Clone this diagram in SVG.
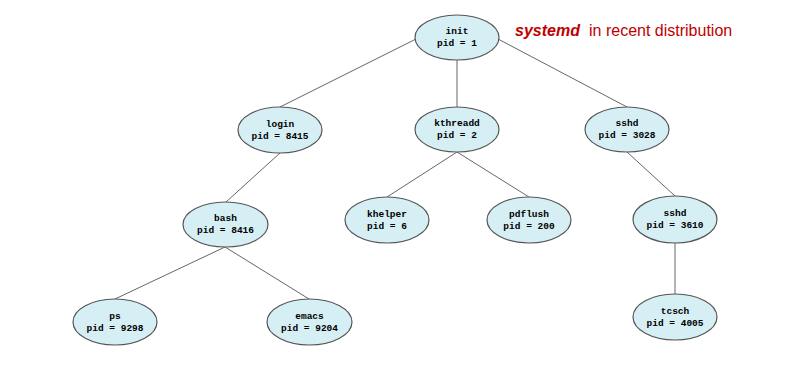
<svg xmlns="http://www.w3.org/2000/svg" width="797" height="372" viewBox="0 0 797 372">
<style>
.n ellipse{fill:#D5EFF4;stroke:#555;stroke-width:1.2}
.n text{font-family:"Liberation Mono","Courier New",monospace;font-weight:bold;font-size:9.5px;text-anchor:middle;fill:#000}
.c line{stroke:#666;stroke-width:1}
.t{font-family:"Liberation Sans",Arial,sans-serif;font-size:16px;fill:#C00000}
</style>
<rect width="797" height="372" fill="#fff"/>
<g id="connectors" class="c">
<line x1="416" y1="39" x2="280" y2="107"/>
<line x1="457" y1="60" x2="457" y2="107"/>
<line x1="498" y1="39" x2="627" y2="107"/>
<line x1="280" y1="153" x2="226" y2="202"/>
<line x1="457" y1="152" x2="387" y2="197"/>
<line x1="457" y1="152" x2="529" y2="197"/>
<line x1="627" y1="152" x2="675" y2="196"/>
<line x1="675" y1="243" x2="675" y2="294"/>
<line x1="225" y1="247" x2="115" y2="299"/>
<line x1="225" y1="247" x2="309" y2="299"/>
</g>
<g id="init" class="n"><ellipse cx="457" cy="37.5" rx="42" ry="22.5"/><text x="457" y="34">init</text><text x="457" y="46">pid = 1</text></g>
<g id="login" class="n"><ellipse cx="280" cy="130" rx="42" ry="23"/><text x="280" y="126.5">login</text><text x="280" y="138.5">pid = 8415</text></g>
<g id="kthreadd" class="n"><ellipse cx="457" cy="129.5" rx="42" ry="22.5"/><text x="457" y="126">kthreadd</text><text x="457" y="138">pid = 2</text></g>
<g id="sshd1" class="n"><ellipse cx="627" cy="129.5" rx="42" ry="22.5"/><text x="627" y="126">sshd</text><text x="627" y="138">pid = 3028</text></g>
<g id="bash" class="n"><ellipse cx="225.5" cy="224.5" rx="42.5" ry="22.5"/><text x="225.5" y="221">bash</text><text x="225.5" y="233">pid = 8416</text></g>
<g id="khelper" class="n"><ellipse cx="387" cy="220" rx="42" ry="23"/><text x="387" y="216.5">khelper</text><text x="387" y="228.5">pid = 6</text></g>
<g id="pdflush" class="n"><ellipse cx="529" cy="220" rx="42" ry="23"/><text x="529" y="216.5">pdflush</text><text x="529" y="228.5">pid = 200</text></g>
<g id="sshd2" class="n"><ellipse cx="675" cy="219.5" rx="42" ry="23.5"/><text x="675" y="216">sshd</text><text x="675" y="228">pid = 3610</text></g>
<g id="ps" class="n"><ellipse cx="115" cy="322" rx="42" ry="23"/><text x="115" y="318.5">ps</text><text x="115" y="330.5">pid = 9298</text></g>
<g id="emacs" class="n"><ellipse cx="309.5" cy="322" rx="42.5" ry="23"/><text x="309.5" y="318.5">emacs</text><text x="309.5" y="330.5">pid = 9204</text></g>
<g id="tcsch" class="n"><ellipse cx="675" cy="317" rx="42" ry="23"/><text x="675" y="313.5">tcsch</text><text x="675" y="325.5">pid = 4005</text></g>
<text class="t" x="515" y="35.5"><tspan font-weight="bold" font-style="italic">systemd</tspan><tspan x="589">in recent distribution</tspan></text>
</svg>
